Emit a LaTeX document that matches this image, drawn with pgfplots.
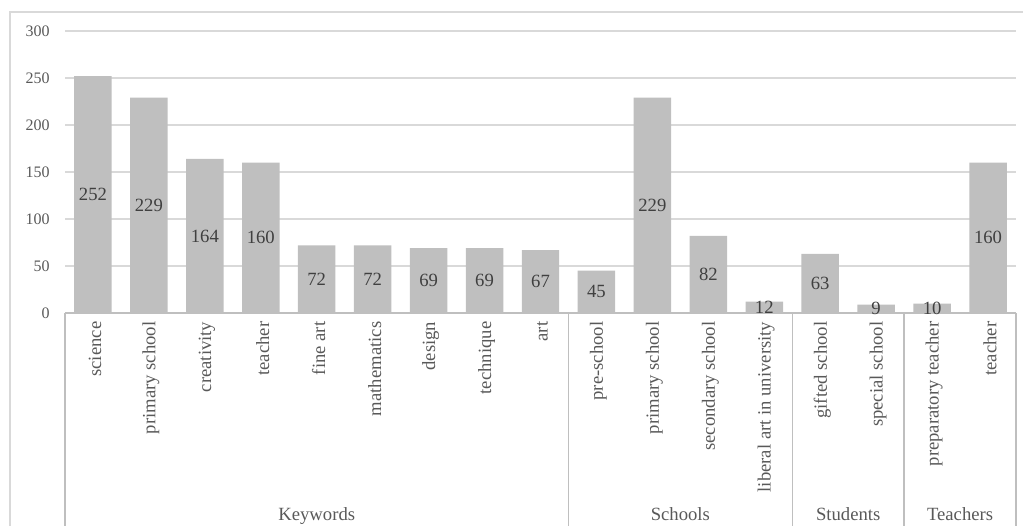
\documentclass[border=0pt]{standalone}
\usepackage{pgfplots}
\pgfplotsset{compat=1.18}
\usepackage{fontspec}
\setmainfont{Liberation Serif}
\definecolor{barfill}{HTML}{BFBFBF}
\definecolor{gridc}{HTML}{D9D9D9}
\definecolor{axc}{HTML}{BFBFBF}
\definecolor{tickc}{HTML}{595959}
\definecolor{lblc}{HTML}{404040}
\begin{document}
\begin{tikzpicture}
% 1 px of the reference = 0.75pt
\useasboundingbox (0pt,0pt) rectangle (767.25pt,393.75pt);
\draw[gridc, line width=1.2pt] (7.5pt,-15pt) -- (7.5pt,384.75pt) -- (780pt,384.75pt);
\begin{axis}[
  at={(48.75pt,159pt)}, anchor=south west,
  scale only axis, width=713.25pt, height=211.5pt,
  xmin=-0.5, xmax=16.5, ymin=0, ymax=300,
  ytick={0,50,...,300},
  xtick={0,...,16},
  xticklabels={science,primary school,creativity,teacher,fine art,mathematics,design,technique,art,pre-school,primary school,secondary school,liberal art in university,gifted school,special school,preparatory teacher,teacher},
  xticklabel style={rotate=90, anchor=east, font=\fontsize{14}{16}\selectfont, color=tickc, xshift=-3pt, yshift=-1.5pt},
  yticklabel style={font=\fontsize{12}{14}\selectfont, color=tickc, xshift=-8pt},
  /pgf/number format/assume math mode=true,
  major tick length=0pt,
  ymajorgrids, grid style={gridc, line width=0.9pt},
  axis line style={draw=none},
  clip=false,
]
\addplot[ybar, fill=barfill, draw=none, bar width=0.67,
  nodes near coords, point meta=rawy,
  visualization depends on={rawy \as \rawy},
  nodes near coords style={anchor=center, font=\fontsize{14}{16}\selectfont, color=lblc,
    shift={(axis direction cs:0,-\rawy/2)}}]
  coordinates {(0,252) (1,229) (2,164) (3,160) (4,72) (5,72) (6,69) (7,69) (8,67)
    (9,45) (10,229) (11,82) (12,12) (13,63) (14,9) (15,10) (16,160)};
\draw[axc, line width=1.1pt] (axis cs:-0.5,0) -- (axis cs:16.5,0);
\draw[axc, line width=1.1pt] (axis cs:-0.5,0) -- ++(0pt,-172.5pt);
\draw[axc, line width=1.1pt] (axis cs:8.5,0) -- ++(0pt,-172.5pt);
\draw[axc, line width=1.1pt] (axis cs:12.5,0) -- ++(0pt,-172.5pt);
\draw[axc, line width=1.1pt] (axis cs:14.5,0) -- ++(0pt,-172.5pt);
\draw[axc, line width=1.1pt] (axis cs:16.5,0) -- ++(0pt,-172.5pt);
\node[font=\fontsize{14}{16}\selectfont, color=tickc, anchor=base] at ([yshift=-155.25pt] axis cs:4,0) {Keywords};
\node[font=\fontsize{14}{16}\selectfont, color=tickc, anchor=base] at ([yshift=-155.25pt] axis cs:10.5,0) {Schools};
\node[font=\fontsize{14}{16}\selectfont, color=tickc, anchor=base] at ([yshift=-155.25pt] axis cs:13.5,0) {Students};
\node[font=\fontsize{14}{16}\selectfont, color=tickc, anchor=base] at ([yshift=-155.25pt] axis cs:15.5,0) {Teachers};
\end{axis}
\end{tikzpicture}
\end{document}
